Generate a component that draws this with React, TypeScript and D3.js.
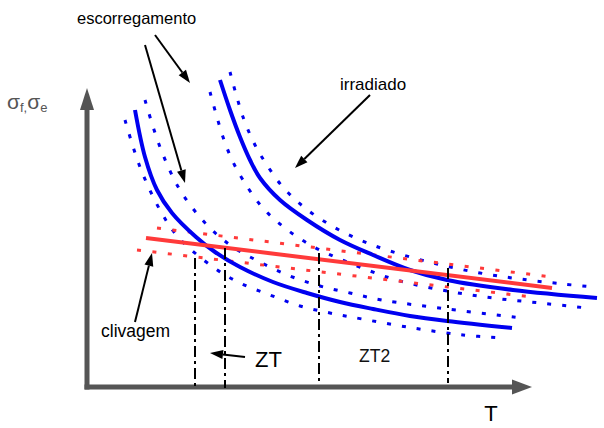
import React from "react";
import * as d3 from "d3";

type P = [number, number];

// Curves in data units (T, sigma)
const lowerSolid: P[] = [[48,277],[58,230],[70,197],[85,174],[109,150],[128,135],[153,120],[186,105],[220,94],[253,85],[286,78],[323,71],[360,66],[425,59]];
const lowerUpperBand: P[] = [[58,287],[73,240],[93,197],[120,162],[146,140],[173,125],[203,111],[233,101],[263,94],[295,87],[360,78],[435,69]];
const lowerLowerBand: P[] = [[38,267],[53,220],[73,177],[91,150],[126,120],[153,104],[183,92],[213,81],[243,74],[275,68],[326,59],[376,52],[415,49]];
const upperSolid: P[] = [[133,307],[143,277],[153,250],[163,227],[173,209],[193,187],[220,167],[253,147],[286,132],[323,117],[360,107],[426,97],[510,89]];
const upperUpperBand: P[] = [[143,315],[156,270],[168,242],[178,225],[195,201],[218,179],[245,161],[273,147],[303,136],[350,123],[393,114],[433,108],[476,103],[506,100]];
const upperLowerBand: P[] = [[123,295],[136,250],[146,225],[156,207],[175,180],[198,159],[225,141],[253,128],[283,116],[313,106],[360,96],[406,89],[453,84],[500,79]];
const redSolid: P[] = [[59,149],[465,99]];
const redUpper: P[] = [[70,159],[465,110]];
const redLower: P[] = [[50,137],[445,90]];

// Transition temperature markers: [T, sigmaTop, sigmaBottom]
const verticals: [number, number, number][] = [[108,129,-1],[138,139,-1],[232,134,4],[361,119,4]];

// Annotation arrows [from, to]
const arrows: [P, P][] = [
  [[68,352],[103,304]],
  [[58,342],[98,204]],
  [[283,292],[208,219]],
  [[48,65],[65,134]],
  [[158,30],[123,34]],
];

const W = 604, H = 428;
const x = d3.scaleLinear().domain([0, 445]).range([87, 532]);
const y = d3.scaleLinear().domain([0, 299]).range([387, 88]);

const line = d3.line<P>().x(d => x(d[0])).y(d => y(d[1])).curve(d3.curveCatmullRom.alpha(0.5));

const BLUE = "#0000f0";
const RED = "#ff3a3a";
const GRAY = "#555555";
const FONT = "Liberation Sans, Arial, sans-serif";

function arrowHead(from: P, to: P, len: number, wid: number) {
  const x1 = x(from[0]), y1 = y(from[1]), x2 = x(to[0]), y2 = y(to[1]);
  const a = Math.atan2(y2 - y1, x2 - x1);
  const bx = x2 - len * Math.cos(a), by = y2 - len * Math.sin(a);
  const px = -Math.sin(a) * wid / 2, py = Math.cos(a) * wid / 2;
  return { path: `M${x2},${y2}L${bx + px},${by + py}L${bx - px},${by - py}Z`, bx, by };
}

export default function App() {
  const yAxisHead = arrowHead([0, -1], [0, 299], 22, 14);
  const xAxisHead = arrowHead([0, 0], [445, 0], 20, 15);
  return (
    <svg width={W} height={H} style={{ position: "absolute", left: 0, top: 0, background: "#fff" }} fontFamily={FONT}>
      {/* axes */}
      <line x1={x(0)} y1={y(0) + 2.5} x2={yAxisHead.bx} y2={yAxisHead.by} stroke={GRAY} strokeWidth={5} />
      <path d={yAxisHead.path} fill={GRAY} />
      <line x1={x(0) - 2.5} y1={y(0)} x2={xAxisHead.bx} y2={xAxisHead.by} stroke={GRAY} strokeWidth={5} />
      <path d={xAxisHead.path} fill={GRAY} />

      {/* bands */}
      {[lowerUpperBand, lowerLowerBand, upperUpperBand, upperLowerBand].map((d, i) => (
        <path key={"b" + i} d={line(d) || ""} fill="none" stroke={BLUE} strokeWidth={3} strokeDasharray="4 11" />
      ))}
      {[redUpper, redLower].map((d, i) => (
        <path key={"r" + i} d={line(d) || ""} fill="none" stroke={RED} strokeWidth={3} strokeDasharray="4 11.5" />
      ))}

      {/* solid curves */}
      <path d={line(lowerSolid) || ""} fill="none" stroke={BLUE} strokeWidth={4} />
      <path d={line(upperSolid) || ""} fill="none" stroke={BLUE} strokeWidth={4} />
      <path d={line(redSolid) || ""} fill="none" stroke={RED} strokeWidth={4} />

      {/* dash-dot verticals */}
      {verticals.map((v, i) => (
        <line key={"v" + i} x1={x(v[0])} x2={x(v[0])} y1={y(v[1])} y2={y(v[2])} stroke="#000" strokeWidth={2} strokeDasharray="11 4 3 4" />
      ))}

      {/* annotation arrows */}
      {arrows.map((a, i) => {
        const h = arrowHead(a[0], a[1], 13, 9);
        return (
          <g key={"a" + i}>
            <line x1={x(a[0][0])} y1={y(a[0][1])} x2={h.bx} y2={h.by} stroke="#000" strokeWidth={2} />
            <path d={h.path} fill="#000" />
          </g>
        );
      })}

      {/* labels */}
      <text x={77} y={24} fontSize={16.5} fill="#000">escorregamento</text>
      <text x={340} y={90} fontSize={17} fill="#000">irradiado</text>
      <text x={101} y={337} fontSize={17.5} fill="#000">clivagem</text>
      <text x={255} y={367} fontSize={22} fill="#000">ZT</text>
      <text x={359} y={362} fontSize={17.5} fill="#111">ZT2</text>
      <text x={491} y={421} fontSize={22} fill="#000" textAnchor="middle">T</text>
      <text x={7} y={109} fill={GRAY} fontSize={21}>
        σ<tspan fontSize={13} dy={3}>f,</tspan><tspan dy={-3}>σ</tspan><tspan fontSize={13} dy={3}>e</tspan>
      </text>
    </svg>
  );
}
